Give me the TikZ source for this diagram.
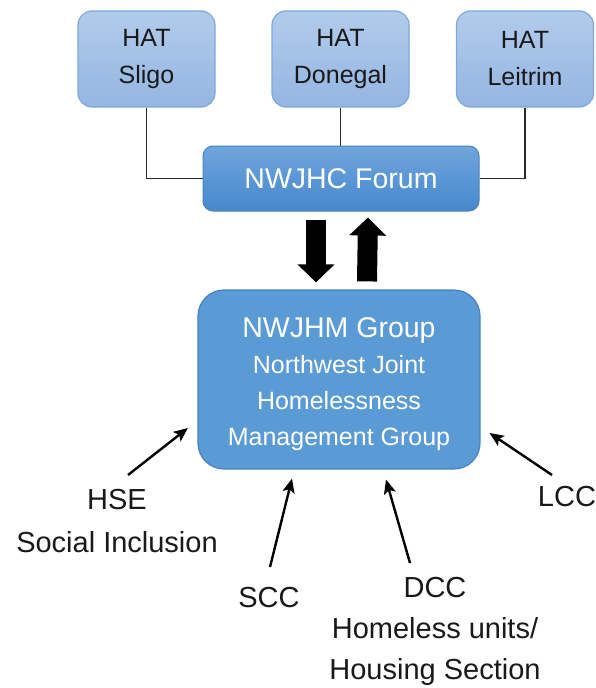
\documentclass[tikz,border=0pt]{standalone}
\usepackage{fontspec}
\setmainfont{Liberation Sans}
\usetikzlibrary{arrows.meta,calc}
\definecolor{HatTop}{RGB}{178,203,235}
\definecolor{HatBottom}{RGB}{148,182,226}
\definecolor{HatLine}{RGB}{128,167,217}
\definecolor{ForumTop}{RGB}{112,165,221}
\definecolor{ForumBottom}{RGB}{70,136,205}
\definecolor{GroupFill}{RGB}{91,155,213}
\definecolor{GroupLine}{RGB}{72,131,190}
\definecolor{LinkGray}{RGB}{40,40,40}

\begin{document}
\begin{tikzpicture}[x=1pt, y=-1pt,
    hatbox/.style={draw=HatLine, line width=1.2pt, rounded corners=14pt,
      top color=HatTop, bottom color=HatBottom, minimum width=137pt,
      minimum height=96pt, align=center, text=black!90,
      font=\fontsize{25}{37}\selectfont},
    forumbox/.style={draw=GroupLine, line width=1pt, rounded corners=10pt,
      top color=ForumTop, bottom color=ForumBottom, minimum width=276pt,
      minimum height=65pt, text=white, font=\fontsize{28.5}{32}\selectfont},
    groupbox/.style={draw=GroupLine, line width=1.2pt, rounded corners=26pt,
      fill=GroupFill, minimum width=282pt, minimum height=179pt},
    grouptext/.style={text=white, align=center, font=\fontsize{25}{36}\selectfont},
    link/.style={draw=LinkGray, line width=1.3pt},
    bigarrow/.style={line width=20pt, -{Triangle[width=36pt,length=18pt]}},
    feed/.style={line width=2.4pt, -{Stealth[length=14pt,width=12pt,inset=3pt]}},
    agency/.style={align=center, text=black!90, font=\fontsize{29}{43}\selectfont}]
  \useasboundingbox (0,0) rectangle (595,688);

  \node[hatbox] (sligo) at (146.5,59) {HAT\\Sligo};
  \node[hatbox] (donegal) at (340.5,59) {HAT\\Donegal};
  \node[hatbox] (leitrim) at (525,59) {HAT\\Leitrim};
  \node[forumbox] (forum) at (341,178.5) {NWJHC Forum};
  \node[groupbox] (group) at (339,379.5) {};
  \node[grouptext] (grouplabel) at ($(group.center)+(0,5)$) {%
    {\fontsize{28.5}{36}\selectfont NWJHM Group}\\
    Northwest Joint\\
    Homelessness\\
    Management Group};

  \draw[link] (sligo.south) |- (forum.west);
  \draw[link] (donegal.south) -- (donegal.south |- forum.north);
  \draw[link] (leitrim.south) |- (forum.east);

  \draw[bigarrow] ($(forum.south)+(-25,8)$) -- ($(group.north)+(-23,-7)$);
  \draw[bigarrow] ($(group.north)+(28,-8)$) -- ($(forum.south)+(27,6)$);

  \node[agency] (hse) at (117,521.5) {HSE\\Social Inclusion};
  \node[agency] (scc) at (269,598) {SCC};
  \node[agency, inner sep=1pt, font=\fontsize{29}{41}\selectfont] (dcc) at (435,631) {DCC\\Homeless units/\\Housing Section};
  \node[agency] (lcc) at (567,497) {LCC};

  \coordinate (hseT) at (128,475);
  \coordinate (sccT) at (270,567);
  \coordinate (dccT) at (410,563);
  \coordinate (lccT) at (552,475);

  \draw[feed] (hseT) -- ($(group.west)+(-9.5,48.5)$);
  \draw[feed] (sccT) -- ($(group.south)+(-47,9)$);
  \draw[feed] (dccT) -- ($(group.south)+(47,10)$);
  \draw[feed] (lccT) -- ($(group.east)+(9,53.5)$);
\end{tikzpicture}
\end{document}
